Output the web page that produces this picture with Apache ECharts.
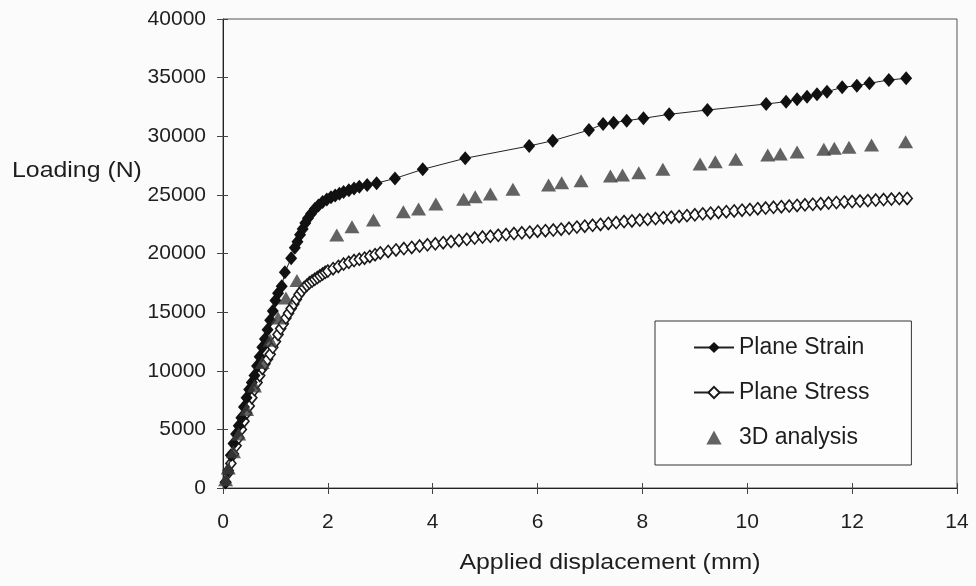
<!DOCTYPE html>
<html>
<head>
<meta charset="utf-8">
<script src="https://cdn.jsdelivr.net/npm/echarts@6/dist/echarts.min.js"></script>
<style>
  html, body { margin: 0; padding: 0; background: #fbfbfb; }
  #chart { width: 976px; height: 586px; }
</style>
</head>
<body>
<div id="chart"></div>
<script>
// [displacement (mm), load (N)]
const planeStrain = [
  [0.05, 500], [0.1, 1500], [0.15, 2800], [0.2, 3800], [0.25, 4600], [0.3, 5300],
  [0.35, 6000], [0.4, 6900], [0.45, 7700], [0.5, 8400], [0.55, 9000], [0.6, 9600],
  [0.65, 10400], [0.7, 11200], [0.75, 12000], [0.8, 12700], [0.85, 13500], [0.9, 14300],
  [0.95, 15100], [1.0, 16000], [1.05, 16600], [1.12, 17200], [1.18, 18400], [1.3, 19600],
  [1.37, 20500], [1.42, 21000], [1.47, 21600], [1.52, 22100], [1.57, 22600], [1.62, 23000],
  [1.68, 23400], [1.75, 23800], [1.82, 24100], [1.9, 24400], [1.98, 24600], [2.06, 24800],
  [2.14, 24950], [2.22, 25100], [2.3, 25250], [2.4, 25400], [2.5, 25550], [2.6, 25700],
  [2.75, 25850], [2.93, 26000], [3.28, 26400], [3.81, 27180], [4.62, 28120], [5.84, 29170],
  [6.29, 29620], [6.98, 30530], [7.25, 31040], [7.45, 31160], [7.7, 31330], [8.02, 31530],
  [8.51, 31870], [9.24, 32240], [10.36, 32750], [10.74, 32950], [10.95, 33150], [11.14, 33370],
  [11.33, 33580], [11.52, 33800], [11.81, 34170], [12.09, 34310], [12.33, 34520], [12.7, 34800],
  [13.03, 34940]
]

const planeStress = [
  [0.05, 500], [0.1, 1300], [0.15, 2100], [0.2, 2900], [0.25, 3600], [0.3, 4300],
  [0.35, 5000], [0.4, 5700], [0.45, 6400], [0.5, 7000], [0.55, 7700], [0.6, 8400],
  [0.65, 9000], [0.7, 9600], [0.75, 10200], [0.8, 10600], [0.85, 11000], [0.9, 11400],
  [0.95, 12000], [1.0, 12500], [1.05, 13100], [1.1, 13600], [1.15, 14000], [1.2, 14500],
  [1.25, 14900], [1.3, 15300], [1.35, 15700], [1.4, 16100], [1.45, 16500], [1.5, 16800],
  [1.55, 17100], [1.6, 17300], [1.65, 17500], [1.7, 17650], [1.75, 17800], [1.8, 17950],
  [1.85, 18100], [1.9, 18250], [1.95, 18400], [2.0, 18500], [2.1, 18700], [2.2, 18900],
  [2.3, 19100], [2.4, 19250], [2.5, 19400], [2.6, 19500], [2.7, 19600], [2.8, 19750],
  [2.9, 19900], [3.0, 20050], [3.15, 20180], [3.3, 20300], [3.45, 20420], [3.6, 20520],
  [3.75, 20630], [3.9, 20740], [4.05, 20830], [4.2, 20920], [4.35, 21020], [4.5, 21110],
  [4.65, 21210], [4.8, 21320], [4.95, 21400], [5.1, 21470], [5.25, 21550], [5.4, 21620],
  [5.55, 21700], [5.7, 21760], [5.85, 21820], [6.0, 21900], [6.15, 21950], [6.3, 22000],
  [6.45, 22070], [6.6, 22150], [6.75, 22250], [6.9, 22330], [7.05, 22400], [7.2, 22480],
  [7.35, 22560], [7.5, 22640], [7.65, 22720], [7.8, 22780], [7.95, 22850], [8.1, 22910],
  [8.25, 22980], [8.4, 23050], [8.55, 23100], [8.7, 23160], [8.85, 23230], [9.0, 23300],
  [9.15, 23380], [9.3, 23440], [9.45, 23500], [9.6, 23570], [9.75, 23630], [9.9, 23690],
  [10.05, 23750], [10.2, 23820], [10.35, 23880], [10.5, 23940], [10.65, 23990], [10.8, 24050],
  [10.95, 24100], [11.1, 24150], [11.25, 24200], [11.4, 24250], [11.55, 24300], [11.7, 24350],
  [11.85, 24400], [12.0, 24430], [12.15, 24470], [12.3, 24510], [12.45, 24560], [12.6, 24600],
  [12.75, 24640], [12.9, 24680], [13.05, 24700]
]

const analysis3d = [
  [0.05, 700], [0.1, 1700], [0.2, 3100], [0.3, 4600], [0.45, 6700], [0.6, 8700],
  [0.75, 10700], [0.9, 12600], [1.05, 14500], [1.2, 16200], [1.41, 17700], [2.17, 21580],
  [2.46, 22290], [2.87, 22860], [3.44, 23570], [3.73, 23800], [4.06, 24220], [4.59, 24620],
  [4.81, 24850], [5.1, 25070], [5.53, 25480], [6.21, 25840], [6.46, 26040], [6.83, 26210],
  [7.39, 26610], [7.62, 26700], [7.93, 26890], [8.39, 27180], [9.1, 27630], [9.39, 27830],
  [9.78, 28030], [10.39, 28400], [10.63, 28490], [10.95, 28660], [11.46, 28890], [11.66, 28970],
  [11.94, 29060], [12.37, 29250], [13.02, 29530]
]

const seriesNames = ['Plane Strain', 'Plane Stress', '3D analysis']
const xAxisName = 'Applied displacement (mm)'
const yAxisName = 'Loading (N)'

const font = "'Liberation Sans', Arial, sans-serif"
const textColor = '#1e1e1e'

const chart = echarts.init(document.getElementById('chart'))

const option = {
  backgroundColor: '#fbfbfb',
  animation: false,
  grid: {
    left: 223,
    right: 19,
    top: 19,
    bottom: 98,
    show: true,
    borderColor: '#555',
    borderWidth: 1,
    containLabel: false,
    outerBoundsMode: 'none'
  },
  // axis titles: the original lettering is a bit wider than Arial, so stretch it a little
  graphic: [
    {
      type: 'text',
      x: 12,
      y: 171,
      scaleX: 1.13,
      style: {
        text: yAxisName,
        font: '22px ' + font,
        fill: textColor,
        textAlign: 'left',
        textVerticalAlign: 'middle'
      }
    },
    {
      type: 'text',
      x: 610,
      y: 563,
      scaleX: 1.13,
      style: {
        text: xAxisName,
        font: '22px ' + font,
        fill: textColor,
        textAlign: 'center',
        textVerticalAlign: 'middle'
      }
    }
  ],
  legend: {
    orient: 'vertical',
    left: 655,
    top: 321,
    padding: [15, 42, 16, 38],
    itemGap: 22,
    itemWidth: 40,
    itemHeight: 14,
    borderColor: '#333',
    borderWidth: 1,
    backgroundColor: '#fdfdfd',
    textStyle: {
      fontFamily: font,
      fontSize: 23,
      color: textColor
    },
    data: [
      seriesNames[0],
      seriesNames[1],
      { name: seriesNames[2], icon: 'path://M6,0L12,11L0,11Z' }
    ]
  },
  xAxis: [
    {
      type: 'value',
      min: 0,
      max: 14,
      interval: 2,
      axisLine: { lineStyle: { color: '#222', width: 1 } },
      axisTick: { length: 6, lineStyle: { color: '#444' } },
      axisLabel: { margin: 24, fontFamily: font, fontSize: 21, color: textColor },
      splitLine: { show: false }
    },
    {
      type: 'value',
      min: 0,
      max: 14,
      interval: 2,
      position: 'bottom',
      axisLine: { show: false },
      axisTick: { inside: true, length: 5, lineStyle: { color: '#444' } },
      axisLabel: { show: false },
      splitLine: { show: false }
    }
  ],
  yAxis: [
    {
      type: 'value',
      min: 0,
      max: 40000,
      interval: 5000,
      axisLine: { show: true, lineStyle: { color: '#222', width: 1 } },
      axisTick: { show: true, length: 6, lineStyle: { color: '#444' } },
      axisLabel: {
        margin: 17,
        fontFamily: font,
        fontSize: 21,
        color: textColor,
        formatter: function (v) { return String(v) }
      },
      splitLine: { show: false }
    },
    {
      type: 'value',
      min: 0,
      max: 40000,
      interval: 5000,
      position: 'left',
      axisLine: { show: false },
      axisTick: { show: true, inside: true, length: 5, lineStyle: { color: '#444' } },
      axisLabel: { show: false },
      splitLine: { show: false }
    }
  ],
  series: [
    {
      name: seriesNames[0],
      type: 'line',
      data: planeStrain,
      symbol: 'diamond',
      symbolSize: [12, 14],
      itemStyle: { color: '#111' },
      lineStyle: { color: '#222', width: 1 },
      z: 3
    },
    {
      name: seriesNames[1],
      type: 'line',
      data: planeStress,
      symbol: 'diamond',
      symbolSize: [10, 12],
      showAllSymbol: true,
      itemStyle: { color: '#ffffff', borderColor: '#1a1a1a', borderWidth: 1.6 },
      lineStyle: { color: '#222', width: 1 },
      z: 2
    },
    {
      name: seriesNames[2],
      type: 'scatter',
      data: analysis3d,
      symbol: 'triangle',
      symbolSize: [15, 13],
      itemStyle: { color: '#3c3c3c' },
      z: 4
    }
  ]
}

chart.setOption(option)
</script>
</body>
</html>
